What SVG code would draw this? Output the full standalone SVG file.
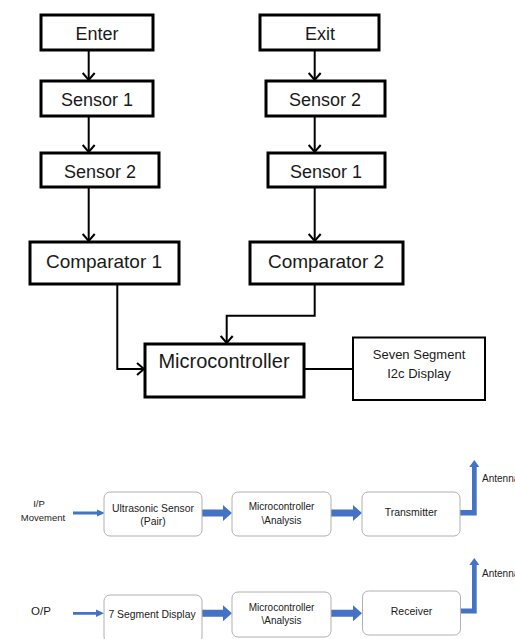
<svg xmlns="http://www.w3.org/2000/svg" width="515" height="639" viewBox="0 0 515 639">
<defs>
<style>
.b{fill:#fff;stroke:#000;stroke-width:3}
.b2{fill:#fff;stroke:#000;stroke-width:2}
.r{fill:#fff;stroke:#b0b0b0;stroke-width:1}
.t{font-family:"Liberation Sans",Arial,sans-serif;fill:#1a1a1a;text-anchor:middle}
.a{font-family:"Liberation Sans",Arial,sans-serif;fill:#1a1a1a;font-size:10px}
.c{fill:none;stroke:#000;stroke-width:2}
.ba{fill:#4472c4}
</style>
<marker id="ah" markerUnits="userSpaceOnUse" markerWidth="14" markerHeight="14" viewBox="-8 -7 10 14" refX="0" refY="0" orient="auto">
<path d="M-7,-6 L0,0 L-7,6" fill="none" stroke="#000" stroke-width="2"/>
</marker>
</defs>
<rect width="515" height="639" fill="#fff"/>
<g id="connectors">
<path class="c" d="M88.7 50V80" marker-end="url(#ah)"/>
<path class="c" d="M88.7 116V152" marker-end="url(#ah)"/>
<path class="c" d="M88.7 187V241" marker-end="url(#ah)"/>
<path class="c" d="M314.7 50V80" marker-end="url(#ah)"/>
<path class="c" d="M314.7 116V152" marker-end="url(#ah)"/>
<path class="c" d="M314.7 187V241" marker-end="url(#ah)"/>
<path class="c" d="M117.3 284V369H144" marker-end="url(#ah)"/>
<path class="c" d="M314.7 284V315.7H226.7V343" marker-end="url(#ah)"/>
<path class="c" d="M304 369H353"/>
<polygon class="ba" points="73,511.5 97,511.5 97,509.5 105,513 97,516.5 97,514.5 73,514.5"/>
<polygon class="ba" points="202,509.5 223,509.5 223,505 232,513 223,521 223,516.5 202,516.5"/>
<polygon class="ba" points="331,509.5 353,509.5 353,505 362,513 353,521 353,516.5 331,516.5"/>
<polygon class="ba" points="460,510 472,510 472,467 469.3,467 474.3,460 479.3,467 476.7,467 476.7,515.5 460,515.5"/>
<polygon class="ba" points="73,612 96,612 96,609.5 104,613.3 96,617 96,614.7 73,614.7"/>
<polygon class="ba" points="202,609.8 223,609.8 223,605.3 232,613.3 223,621.3 223,616.8 202,616.8"/>
<polygon class="ba" points="331,609.8 353,609.8 353,605.3 362,613.3 353,621.3 353,616.8 331,616.8"/>
<polygon class="ba" points="460,608.5 472,608.5 472,565 469.3,565 474.3,558 479.3,565 476.7,565 476.7,613.5 460,613.5"/>
</g>
<g id="enter"><rect class="b" x="41" y="15" width="112" height="35"/><text class="t" x="97" y="40" font-size="18">Enter</text></g>
<g id="sensor1-left"><rect class="b" x="41" y="81" width="112" height="35"/><text class="t" x="97" y="106" font-size="18">Sensor 1</text></g>
<g id="sensor2-left"><rect class="b" x="41" y="153" width="118" height="34"/><text class="t" x="100" y="177.5" font-size="18">Sensor 2</text></g>
<g id="comparator1"><rect class="b" x="30" y="242" width="149" height="42"/><text class="t" x="104" y="268" font-size="19">Comparator 1</text></g>
<g id="exit"><rect class="b" x="260" y="15" width="119" height="35"/><text class="t" x="320" y="40" font-size="18">Exit</text></g>
<g id="sensor2-right"><rect class="b" x="266" y="81" width="119" height="35"/><text class="t" x="325" y="106" font-size="18">Sensor 2</text></g>
<g id="sensor1-right"><rect class="b" x="268" y="153" width="117" height="34"/><text class="t" x="326" y="177.5" font-size="18">Sensor 1</text></g>
<g id="comparator2"><rect class="b" x="250" y="242" width="153" height="42"/><text class="t" x="326" y="268" font-size="19">Comparator 2</text></g>
<g id="microcontroller"><rect class="b" x="145" y="344" width="159" height="53"/><text class="t" x="224" y="368" font-size="20">Microcontroller</text></g>
<g id="seven-segment"><rect class="b2" x="353" y="337.5" width="132" height="62.5"/><text class="t" x="419" y="358.5" font-size="13">Seven Segment</text><text class="t" x="419" y="378" font-size="13">I2c Display</text></g>
<g id="ip-label"><text class="t" x="39" y="507" font-size="9.5">I/P</text><text class="t" x="43" y="520.5" font-size="9.5">Movement</text></g>
<g id="ultrasonic"><rect class="r" x="104" y="492" width="98" height="44" rx="6"/><text class="t" x="153" y="511.5" font-size="10.4">Ultrasonic Sensor</text><text class="t" x="153" y="525" font-size="10.4">(Pair)</text></g>
<g id="micro-analysis-1"><rect class="r" x="232" y="492" width="99" height="44" rx="6"/><text class="t" x="281.5" y="510" font-size="10">Microcontroller</text><text class="t" x="281.5" y="524" font-size="10">\Analysis</text></g>
<g id="transmitter"><rect class="r" x="362" y="492" width="98" height="44" rx="6"/><text class="t" x="411" y="516" font-size="10.5">Transmitter</text></g>
<g id="antenna-1"><text class="a" x="482" y="481.5">Antenna</text></g>
<g id="op-label"><text class="t" x="41" y="615" font-size="11.5">O/P</text></g>
<g id="seven-seg-display"><rect class="r" x="104" y="595" width="98" height="48" rx="6"/><text class="t" x="152" y="617.5" font-size="10.4">7 Segment Display</text></g>
<g id="micro-analysis-2"><rect class="r" x="232" y="592" width="99" height="45" rx="6"/><text class="t" x="281.5" y="610.5" font-size="10">Microcontroller</text><text class="t" x="281.5" y="624" font-size="10">\Analysis</text></g>
<g id="receiver"><rect class="r" x="362.5" y="591" width="98" height="44" rx="6"/><text class="t" x="411.5" y="614.5" font-size="10.5">Receiver</text></g>
<g id="antenna-2"><text class="a" x="482" y="577">Antenna</text></g>
</svg>
